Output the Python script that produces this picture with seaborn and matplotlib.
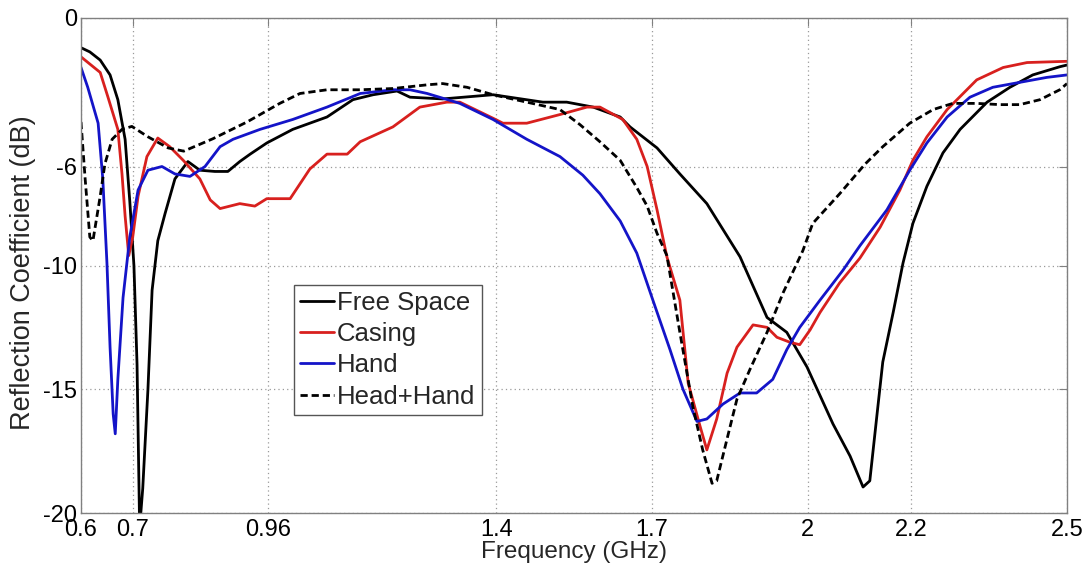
import numpy as np
import pandas as pd
import matplotlib
matplotlib.use("Agg")
import matplotlib.pyplot as plt
import seaborn as sns

# ---- data ----
free_f = [0.600, 0.617, 0.637, 0.656, 0.671, 0.685, 0.694, 0.702, 0.708, 0.713, 0.719, 0.729, 0.737,
          0.748, 0.762, 0.781, 0.806, 0.829, 0.858, 0.883, 0.906, 0.926, 0.958, 1.008, 1.074, 1.124,
          1.163, 1.209, 1.234, 1.297, 1.394, 1.490, 1.536, 1.587, 1.639, 1.658, 1.710, 1.754, 1.806,
          1.870, 1.922, 1.960, 1.999, 2.049, 2.082, 2.107, 2.120, 2.134, 2.145, 2.165, 2.184, 2.203,
          2.230, 2.261, 2.294, 2.346, 2.390, 2.434, 2.486, 2.500]
free_db = [-1.2, -1.37, -1.7, -2.3, -3.3, -4.9, -7.4, -10.0, -14.0, -20.6, -19.0, -15.0, -11.0,
           -9.0, -7.9, -6.5, -5.8, -6.15, -6.2, -6.2, -5.8, -5.5, -5.05, -4.5, -4.0, -3.3,
           -3.1, -2.95, -3.2, -3.27, -3.1, -3.4, -3.4, -3.6, -4.0, -4.4, -5.25, -6.3, -7.5,
           -9.65, -12.1, -12.7, -14.1, -16.4, -17.7, -18.95, -18.7, -16.0, -13.9, -11.9, -9.9, -8.3,
           -6.8, -5.45, -4.5, -3.4, -2.8, -2.3, -1.97, -1.9]

casing_f = [0.600, 0.637, 0.652, 0.671, 0.679, 0.685, 0.692, 0.700, 0.710, 0.727, 0.748, 0.771,
            0.797, 0.829, 0.849, 0.868, 0.906, 0.935, 0.958, 1.003, 1.041, 1.074, 1.113, 1.138,
            1.201, 1.253, 1.305, 1.330, 1.394, 1.413, 1.459, 1.523, 1.575, 1.600, 1.644, 1.671,
            1.691, 1.710, 1.729, 1.754, 1.770, 1.793, 1.806, 1.825, 1.845, 1.864, 1.895, 1.922,
            1.941, 1.966, 1.985, 2.005, 2.024, 2.062, 2.101, 2.140, 2.178, 2.203, 2.230, 2.269,
            2.326, 2.377, 2.423, 2.500]
casing_db = [-1.57, -2.2, -3.2, -4.5, -6.3, -8.0, -9.6, -8.8, -7.2, -5.6, -4.85, -5.2,
             -5.75, -6.5, -7.35, -7.7, -7.5, -7.6, -7.3, -7.3, -6.1, -5.5, -5.5, -5.0,
             -4.4, -3.6, -3.4, -3.4, -4.05, -4.25, -4.25, -3.9, -3.6, -3.6, -4.1, -4.9,
             -6.0, -7.75, -9.65, -11.4, -14.75, -16.5, -17.45, -16.2, -14.35, -13.3, -12.4, -12.5,
             -12.9, -13.1, -13.2, -12.6, -11.9, -10.7, -9.7, -8.45, -6.95, -5.75, -4.8, -3.7,
             -2.5, -2.0, -1.8, -1.75]

hand_f = [0.600, 0.613, 0.633, 0.642, 0.650, 0.656, 0.662, 0.666, 0.671, 0.681, 0.694, 0.710,
          0.729, 0.756, 0.781, 0.810, 0.839, 0.868, 0.893, 0.945, 1.008, 1.074, 1.138, 1.201,
          1.234, 1.267, 1.330, 1.394, 1.459, 1.523, 1.567, 1.600, 1.639, 1.671, 1.702, 1.735,
          1.760, 1.787, 1.806, 1.837, 1.870, 1.902, 1.933, 1.960, 1.985, 2.024, 2.068, 2.101,
          2.153, 2.197, 2.230, 2.269, 2.313, 2.357, 2.409, 2.461, 2.500]
hand_db = [-2.0, -2.8, -4.25, -6.5, -9.9, -13.3, -16.0, -16.8, -14.6, -11.3, -8.85, -6.95,
           -6.15, -6.0, -6.3, -6.4, -6.0, -5.2, -4.9, -4.5, -4.1, -3.6, -3.05, -2.9,
           -2.9, -3.05, -3.45, -4.1, -4.9, -5.6, -6.35, -7.1, -8.2, -9.5, -11.4, -13.4,
           -15.0, -16.3, -16.2, -15.6, -15.15, -15.15, -14.6, -13.4, -12.5, -11.4, -10.2, -9.2,
           -7.75, -6.15, -5.05, -4.0, -3.2, -2.8, -2.6, -2.4, -2.3]

headhand_f = [0.600, 0.608, 0.617, 0.623, 0.637, 0.646, 0.660, 0.679, 0.698, 0.729, 0.768, 0.798,
              0.854, 0.920, 0.983, 1.022, 1.074, 1.138, 1.201, 1.267, 1.297, 1.344, 1.394, 1.459,
              1.523, 1.561, 1.600, 1.639, 1.671, 1.691, 1.710, 1.729, 1.754, 1.779, 1.798, 1.816,
              1.825, 1.845, 1.864, 1.889, 1.922, 1.953, 1.991, 2.010, 2.062, 2.111, 2.145, 2.197,
              2.242, 2.280, 2.326, 2.371, 2.409, 2.448, 2.486, 2.500]
headhand_db = [-4.2, -6.5, -8.85, -9.0, -7.2, -5.9, -4.9, -4.5, -4.38, -4.8, -5.25, -5.38,
               -4.88, -4.2, -3.45, -3.05, -2.9, -2.9, -2.85, -2.7, -2.65, -2.8, -3.1, -3.4,
               -3.7, -4.3, -5.0, -5.75, -6.85, -7.6, -8.7, -9.6, -12.7, -15.7, -17.45, -18.8,
               -18.7, -17.0, -15.4, -14.2, -12.7, -11.1, -9.4, -8.3, -7.1, -5.9, -5.2, -4.25,
               -3.7, -3.45, -3.45, -3.5, -3.5, -3.3, -2.9, -2.65]

series_names = ["Free Space", "Casing", "Hand", "Head+Hand"]
x_ticks = [0.6, 0.7, 0.96, 1.4, 1.7, 2.0, 2.2, 2.5]
x_ticklabels = ["0.6", "0.7", "0.96", "1.4", "1.7", "2", "2.2", "2.5"]
y_ticks = [0, -6, -10, -15, -20]
y_ticklabels = ["0", "-6", "-10", "-15", "-20"]

# ---- style ----
sns.set_style("white")
plt.rcParams['font.family'] = ['Liberation Sans', 'DejaVu Sans']
plt.rcParams['font.size'] = 17

fig = plt.figure(figsize=(10.89, 5.75), dpi=100)
ax = fig.add_axes([81 / 1089, 1 - 513 / 575, 986 / 1089, 495 / 575])

styles = [
    (free_f, free_db, "#000000", "-"),
    (casing_f, casing_db, "#d8201e", "-"),
    (hand_f, hand_db, "#1414c8", "-"),
    (headhand_f, headhand_db, "#000000", (0, (2.6, 1.4))),
]
for name, (fx, fy, col, ls) in zip(series_names, styles):
    sns.lineplot(x=fx, y=fy, ax=ax, color=col, linestyle=ls, linewidth=2.0,
                 label=name, sort=False, estimator=None)

ax.set_xlim(0.6, 2.5)
ax.set_ylim(-20, 0)
ax.set_xticks(x_ticks)
ax.set_xticklabels(x_ticklabels)
ax.set_yticks(y_ticks)
ax.set_yticklabels(y_ticklabels)
ax.grid(True, linestyle=(0, (1, 2.5)), color="#9a9a9a", linewidth=0.9)
ax.tick_params(direction="in", length=6, width=0.8, color="#808080",
               top=True, right=True, labelsize=17, labelcolor="black")
ax.tick_params(axis="x", pad=4)
ax.tick_params(axis="y", pad=3)
for s in ax.spines.values():
    s.set_color("#808080")
    s.set_linewidth(1.0)

ax.set_xlabel("Frequency (GHz)", fontsize=17.5, labelpad=0)
ax.set_ylabel("Reflection Coefficient (dB)", fontsize=19.5, labelpad=3)
ylab = ax.yaxis.label
ylab.set_rotation_mode("default")
ylab.set_horizontalalignment("center")
ylab.set_verticalalignment("center")
ax.yaxis.set_label_coords(-(81 - 23) / 986, (513 - 273) / 495)

leg = ax.legend(loc="lower left", bbox_to_anchor=(0.216, 0.198), fontsize=18.5,
                handlelength=1.3, handletextpad=0.12, labelspacing=0.28,
                borderpad=0.25, borderaxespad=0, frameon=True, fancybox=False,
                edgecolor="#555555", framealpha=1)
leg.get_frame().set_linewidth(1.0)

fig.savefig("out.png", dpi=100)
